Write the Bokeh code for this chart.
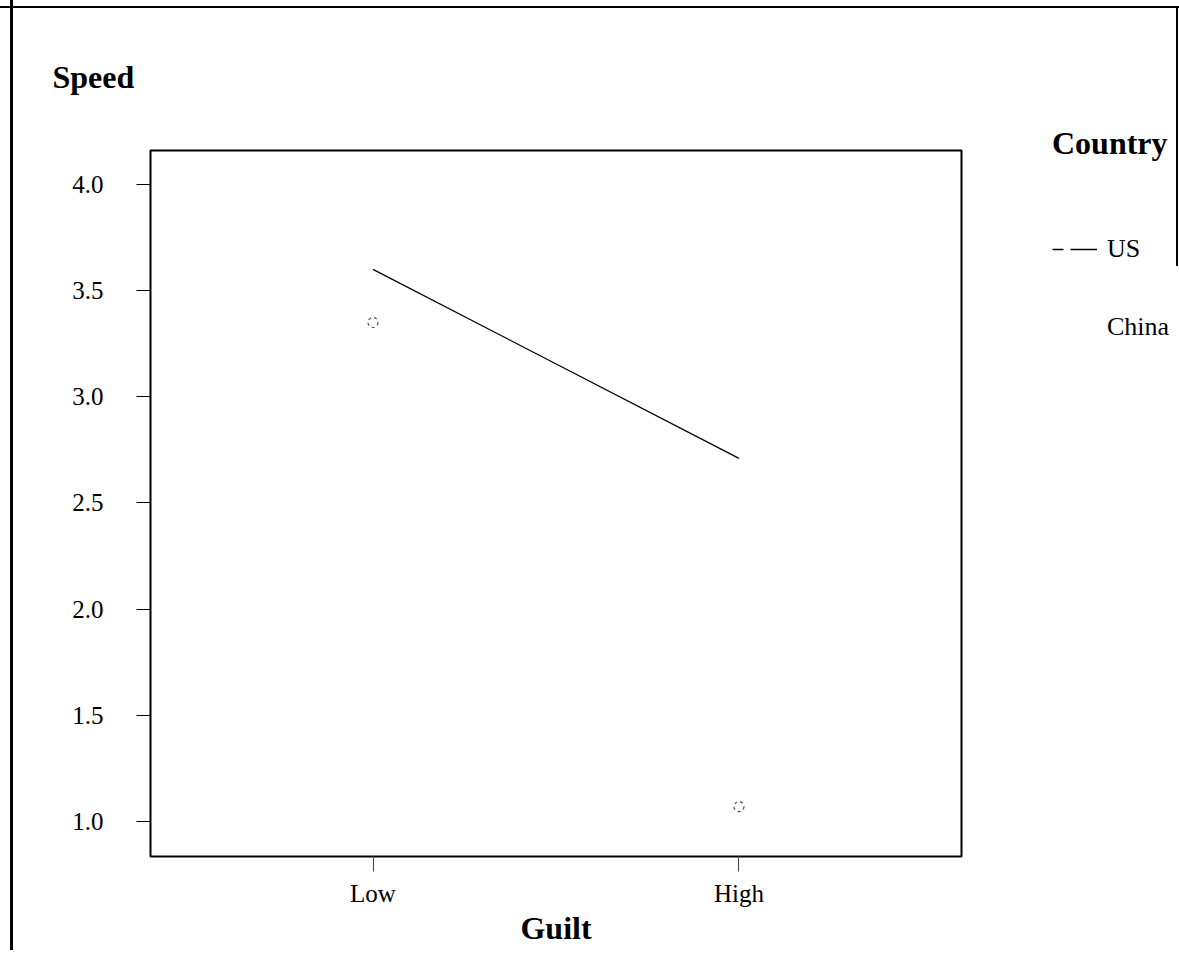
import math
from bokeh.plotting import figure
from bokeh.models import (Range1d, FactorRange, FixedTicker, PrintfTickFormatter,
                          Legend, LegendItem)
from bokeh.embed import file_html
from bokeh.resources import INLINE

# ---- data ----
guilt = ["Low", "High"]
us_speed = [3.60, 2.71]
china_speed = [3.35, 1.07]
y_ticks = [1.0, 1.5, 2.0, 2.5, 3.0, 3.5, 4.0]

# ---- layout constants (page pixels) ----
W, H = 1179, 950
FRAME_L, FRAME_T, FRAME_W, FRAME_H = 150, 150, 811, 706
PAD = 0.108
Y0, Y1 = 0.835, 4.16
FONT = "Liberation Serif"

p = figure(
    x_range=FactorRange(factors=guilt, range_padding=PAD, range_padding_units="absolute"),
    y_range=Range1d(Y0, Y1),
    frame_width=FRAME_W, frame_height=FRAME_H,
    min_border_left=FRAME_L, min_border_top=FRAME_T,
    min_border_right=W - FRAME_L - FRAME_W,
    min_border_bottom=H - FRAME_T - FRAME_H,
    output_backend="svg", toolbar_location=None,
)
p.background_fill_color = "white"
p.border_fill_alpha = 0
p.outline_line_color = "black"
p.outline_line_width = 2
p.grid.visible = False

# scan border lines around the page (drawn behind the transparent border area)
p.styles = {
    "background-color": "white",
    "background-image": ("linear-gradient(black, black), linear-gradient(black, black), "
                         "linear-gradient(black, black)"),
    "background-size": "3px 100%, 100% 2px, 2px 260px",
    "background-position": "10px 0px, 0px 6px, 1176px 6px",
    "background-repeat": "no-repeat",
}

# "Speed" heading as the plot title
p.title.text = "Speed"
p.title.align = "left"
p.title.offset = 52 - FRAME_L
p.title.standoff = 112
p.title.text_font = FONT
p.title.text_font_size = "32px"
p.title.text_font_style = "bold"
p.title.text_color = "black"

# axes
p.yaxis.ticker = FixedTicker(ticks=y_ticks)
p.yaxis.formatter = PrintfTickFormatter(format="%.1f")
p.yaxis.axis_line_color = None
p.yaxis.major_tick_out = 14
p.yaxis.major_tick_in = 0
p.yaxis.minor_tick_out = 0
p.yaxis.minor_tick_in = 0
p.yaxis.major_label_standoff = 33
p.yaxis.major_label_text_font = FONT
p.yaxis.major_label_text_font_size = "25px"
p.yaxis.major_label_text_color = "black"

p.xaxis.axis_line_color = None
p.xaxis.major_tick_out = 15
p.xaxis.major_tick_in = 0
p.xaxis.major_tick_line_color = "#444444"
p.xaxis.major_label_standoff = 8
p.xaxis.major_label_text_font = FONT
p.xaxis.major_label_text_font_size = "25px"
p.xaxis.major_label_text_color = "black"
p.xaxis.axis_label = "Guilt"
p.xaxis.axis_label_text_font = FONT
p.xaxis.axis_label_text_font_size = "32px"
p.xaxis.axis_label_text_font_style = "bold"
p.xaxis.axis_label_text_color = "black"
p.xaxis.axis_label_standoff = 0

# series
p.line(guilt, us_speed, line_color="black", line_width=1.3)
# legend key for US (dash style of the key); NaN data draws nothing in the plot
us_key = p.line(guilt, [math.nan] * len(guilt), line_color="black", line_width=1.3,
                line_dash="11 7 1000")
china_line = p.line(guilt, china_speed, line_color="#888888", line_width=1,
                    line_dash="1 6", line_alpha=0.12)
p.scatter(guilt, china_speed, marker="circle", size=10, fill_color=None,
          line_color="#555555", line_dash="3 3", line_width=1.2)

# legend, in the right-hand panel
legend = Legend(
    items=[LegendItem(label="US", renderers=[us_key]),
           LegendItem(label="China", renderers=[china_line])],
    location=(1052 - FRAME_L - FRAME_W, 514),
    title="Country",
    title_text_font=FONT, title_text_font_size="32px", title_text_font_style="bold",
    title_text_color="black", title_standoff=72,
    label_text_font=FONT, label_text_font_size="26px", label_text_color="black",
    glyph_width=45, glyph_height=20, label_standoff=10, spacing=48,
    padding=0, margin=0, border_line_color=None, background_fill_alpha=0,
)
p.add_layout(legend, "right")

open("out.html", "w").write(file_html(p, INLINE))
